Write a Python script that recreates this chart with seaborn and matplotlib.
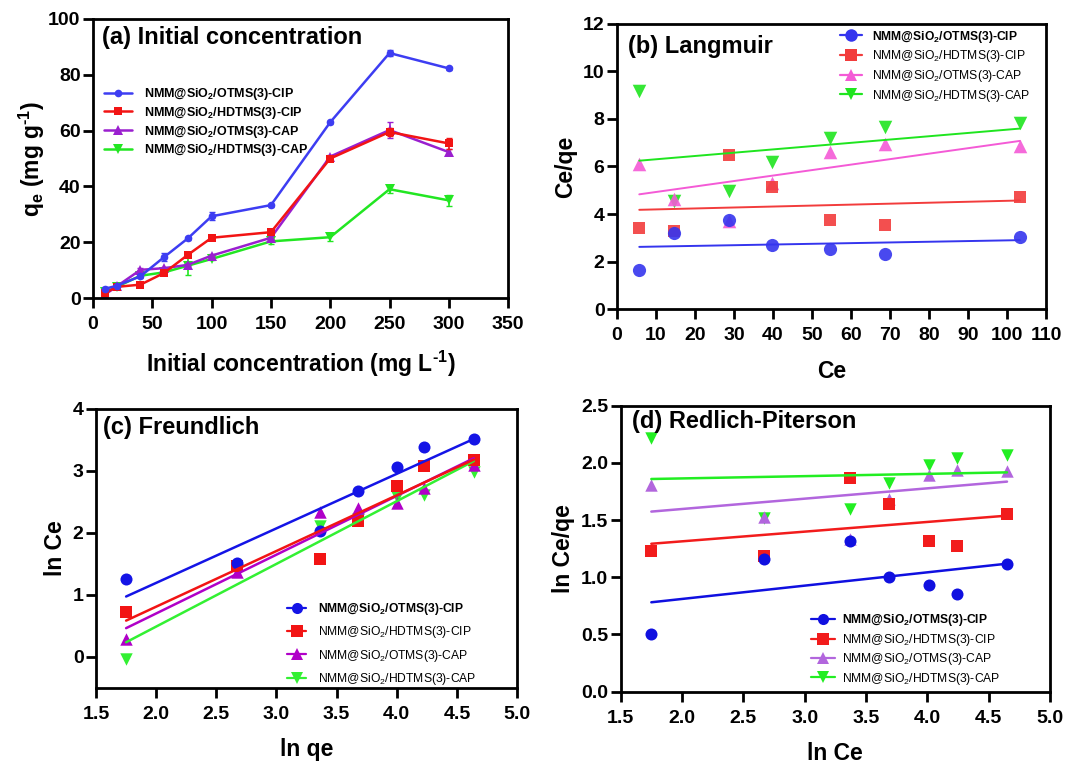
"""
Adsorption isotherms of the NMM@SiO2 adsorbents for CIP and CAP:
(a) effect of initial concentration, (b) Langmuir, (c) Freundlich and
(d) Redlich-Piterson linear fits. Saved to out.png.
"""
import matplotlib
matplotlib.use("Agg")
import matplotlib.pyplot as plt
from matplotlib.lines import Line2D
import seaborn as sns

# legend names (normal and bold version)
names = ["NMM@SiO$_2$/OTMS(3)-CIP", "NMM@SiO$_2$/HDTMS(3)-CIP",
         "NMM@SiO$_2$/OTMS(3)-CAP", "NMM@SiO$_2$/HDTMS(3)-CAP"]
names_bold = [r"NMM@SiO$_\mathbf{2}$/OTMS(3)-CIP",
              r"NMM@SiO$_\mathbf{2}$/HDTMS(3)-CIP",
              r"NMM@SiO$_\mathbf{2}$/OTMS(3)-CAP",
              r"NMM@SiO$_\mathbf{2}$/HDTMS(3)-CAP"]
markers = ["o", "s", "^", "v"]

# (a) initial concentration
conc = [10, 20, 40, 60, 80, 100, 150, 200, 250, 300]
qe_otms_cip = [3.3, 4.4, 7.8, 14.7, 21.4, 29.3, 33.3, 63.0, 87.8, 82.3]
qe_hdtms_cip = [1.8, 4.0, 4.8, 9.0, 15.5, 21.6, 23.6, 50.0, 59.5, 55.4]
qe_otms_cap = [1.2, 4.2, 10.1, 10.7, 11.9, 15.2, 21.6, 50.7, 60.2, 52.3]
qe_hdtms_cap = [2.0, 4.0, 8.0, 9.2, 11.6, 14.0, 20.3, 21.8, 39.0, 35.0]
err_otms_cip = [0.5, 0, 0.5, 1.5, 0.5, 1.5, 0.5, 0.5, 1.0, 0.5]
err_hdtms_cip = [0.5, 0, 0.5, 0.5, 0.5, 0.5, 0.5, 0.5, 1.5, 2.0]
err_otms_cap = [0.5, 0, 0.5, 0.5, 0.5, 0.5, 0.5, 0.5, 3.0, 1.2]
err_hdtms_cap = [0.5, 0, 0.5, 0.5, 3.5, 0.5, 1.0, 1.5, 1.5, 2.0]

# (b) Langmuir: Ce vs Ce/qe
ce = [5.7, 14.6, 28.8, 39.8, 54.7, 68.8, 103.3]
lang_otms_cip = [1.63, 3.2, 3.73, 2.7, 2.52, 2.32, 3.05]
lang_hdtms_cip = [3.41, 3.3, 6.49, 5.12, 3.76, 3.54, 4.73]
lang_otms_cap = [6.11, 4.63, 3.7, 5.3, 6.59, 6.94, 6.86]
lang_hdtms_cap = [9.16, 4.53, 4.95, 6.17, 7.19, 7.65, 7.84]

# (c) Freundlich: ln qe vs ln Ce
ln_qe = [1.75, 2.67, 3.36, 3.68, 4.0, 4.23, 4.64]
fr_otms_cip = [1.26, 1.51, 2.04, 2.67, 3.07, 3.39, 3.51]
fr_hdtms_cip = [0.73, 1.46, 1.58, 2.19, 2.75, 3.08, 3.17]
fr_otms_cap = [0.29, 1.37, 2.34, 2.40, 2.49, 2.73, 3.09]
fr_hdtms_cap = [-0.04, 1.40, 2.12, 2.22, 2.58, 2.62, 2.98]

# (d) Redlich-Piterson: ln Ce vs ln Ce/qe
ln_ce = [1.75, 2.67, 3.37, 3.69, 4.01, 4.24, 4.65]
rp_otms_cip = [0.50, 1.16, 1.32, 1.00, 0.93, 0.85, 1.12]
rp_hdtms_cip = [1.23, 1.19, 1.87, 1.64, 1.32, 1.27, 1.555]
rp_otms_cap = [1.81, 1.53, 1.33, 1.68, 1.89, 1.94, 1.93]
rp_hdtms_cap = [2.22, 1.52, 1.60, 1.82, 1.98, 2.04, 2.07]

sns.set_style("ticks")
plt.rcParams["font.family"] = ["Liberation Sans", "DejaVu Sans"]
plt.rcParams["font.weight"] = "bold"
plt.rcParams["axes.labelweight"] = "bold"
plt.rcParams["text.color"] = "black"
plt.rcParams["axes.labelcolor"] = "black"
plt.rcParams["mathtext.fontset"] = "custom"
plt.rcParams["mathtext.rm"] = "Liberation Sans"
plt.rcParams["mathtext.it"] = "Liberation Sans:italic"
plt.rcParams["mathtext.bf"] = "Liberation Sans:bold"
plt.rcParams["mathtext.default"] = "regular"

TITLE_SIZE = 17
LABEL_SIZE = 16.5


def style_axes(ax):
    """thick black box and outward ticks, GraphPad look"""
    for sp in ax.spines.values():
        sp.set_linewidth(2)
        sp.set_color("black")
    ax.tick_params(direction="out", length=7, width=2, labelsize=14,
                   colors="black")
    ax.tick_params(axis="x", pad=6)
    ax.tick_params(axis="y", pad=2)
    for lab in ax.get_xticklabels() + ax.get_yticklabels():
        lab.set_fontweight("bold")
    ax.xaxis.labelpad = 11
    ax.yaxis.labelpad = 4


def fit_panel(ax, x, series, colors, sizes, alpha=1.0, lw=1.6):
    """scatter + linear fit per series, drawn last series first"""
    for i in reversed(range(4)):
        sns.regplot(x=x, y=series[i], ax=ax, ci=None, marker=markers[i],
                    color=colors[i],
                    scatter_kws={"s": sizes[i], "alpha": alpha,
                                 "linewidths": 0},
                    line_kws={"lw": lw})


def fit_legend(ax, colors, msize, loc, anchor, spacing, hlen, pad):
    handles = [Line2D([0], [0], color=colors[i], marker=markers[i],
                      markersize=msize, markeredgewidth=0, lw=1.6)
               for i in range(4)]
    labels = [names_bold[0]] + names[1:]
    leg = ax.legend(handles, labels, loc=loc, bbox_to_anchor=anchor,
                    frameon=False, prop={"size": 8.7, "weight": "normal"},
                    labelspacing=spacing, handlelength=hlen,
                    handletextpad=pad)
    leg.get_texts()[0].set_fontweight("bold")
    return leg


def panel_a(ax):
    colors = ["#3D3DF2", "#F21414", "#9A1FCF", "#22E622"]
    vals = [qe_otms_cip, qe_hdtms_cip, qe_otms_cap, qe_hdtms_cap]
    errs = [err_otms_cip, err_hdtms_cip, err_otms_cap, err_hdtms_cap]
    msz = [5.5, 6, 6.5, 6.5]
    for i in reversed(range(4)):
        ax.errorbar(conc, vals[i], yerr=errs[i], fmt="none",
                    ecolor=colors[i], capsize=2.5, elinewidth=1.2)
        sns.lineplot(x=conc, y=vals[i], ax=ax, color=colors[i],
                     marker=markers[i], markersize=msz[i],
                     markeredgewidth=0, lw=1.8)
    handles = [Line2D([0], [0], color=colors[i], marker=markers[i],
                      markersize=msz[i], markeredgewidth=0, lw=1.8)
               for i in range(4)]
    ax.legend(handles, names_bold, loc="upper left",
              bbox_to_anchor=(0.0, 0.80), frameon=False,
              prop={"size": 9, "weight": "bold"}, labelspacing=0.22,
              handlelength=2.2, handletextpad=1.0)
    ax.set_xlim(0, 350)
    ax.set_ylim(0, 100)
    ax.set_xticks(range(0, 351, 50))
    ax.set_yticks(range(0, 101, 20))
    ax.set_xlabel("Initial concentration (mg L$^\\mathbf{\u20101}$)",
                  fontsize=LABEL_SIZE)
    ax.set_ylabel("q$_\\mathbf{e}$ (mg g$^\\mathbf{\u20101}$)",
                  fontsize=LABEL_SIZE)
    ax.text(0.022, 0.935, "(a) Initial concentration",
            transform=ax.transAxes, fontsize=TITLE_SIZE, fontweight="bold",
            va="center")
    style_axes(ax)
    ax.yaxis.labelpad = 1


def panel_b(ax):
    colors = ["#3535EE", "#F23C3C", "#F45AD6", "#1FE51F"]
    vals = [lang_otms_cip, lang_hdtms_cip, lang_otms_cap, lang_hdtms_cap]
    fit_panel(ax, ce, vals, colors, [90, 75, 95, 95], alpha=0.9, lw=1.4)
    fit_legend(ax, colors, 9, "upper right", (0.99, 1.02), 0.3, 1.8, 0.9)
    ax.set_xlim(0, 110)
    ax.set_ylim(0, 12)
    ax.set_xticks(range(0, 111, 10))
    ax.set_yticks(range(0, 13, 2))
    ax.set_xlabel("Ce", fontsize=LABEL_SIZE)
    ax.set_ylabel("Ce/qe", fontsize=LABEL_SIZE)
    ax.text(0.026, 0.919, "(b) Langmuir", transform=ax.transAxes,
            fontsize=TITLE_SIZE, fontweight="bold", va="center")
    style_axes(ax)


def panel_c(ax):
    colors = ["#1414E6", "#F21414", "#B000C8", "#33F033"]
    vals = [fr_otms_cip, fr_hdtms_cip, fr_otms_cap, fr_hdtms_cap]
    fit_panel(ax, ln_qe, vals, colors, [75, 70, 80, 80], lw=1.8)
    fit_legend(ax, colors, 8, "lower right", (0.93, -0.035), 0.6, 1.6,
               1.0)
    ax.set_xlim(1.5, 5.0)
    ax.set_ylim(-0.5, 4)
    ax.set_xticks([1.5, 2.0, 2.5, 3.0, 3.5, 4.0, 4.5, 5.0])
    ax.set_yticks([0, 1, 2, 3, 4])
    ax.set_xlabel("ln qe", fontsize=LABEL_SIZE)
    ax.set_ylabel("ln Ce", fontsize=LABEL_SIZE)
    ax.text(0.017, 0.932, "(c) Freundlich", transform=ax.transAxes,
            fontsize=TITLE_SIZE, fontweight="bold", va="center")
    style_axes(ax)


def panel_d(ax):
    colors = ["#1010E0", "#F21C1C", "#B266DD", "#22EE22"]
    vals = [rp_otms_cip, rp_hdtms_cip, rp_otms_cap, rp_hdtms_cap]
    fit_panel(ax, ln_ce, vals, colors, [75, 70, 80, 80], lw=1.8)
    fit_legend(ax, colors, 8, "lower right", (0.91, -0.02), 0.28, 2.0, 0.6)
    ax.set_xlim(1.5, 5.0)
    ax.set_ylim(0, 2.5)
    ax.set_xticks([1.5, 2.0, 2.5, 3.0, 3.5, 4.0, 4.5, 5.0])
    ax.set_yticks([0.0, 0.5, 1.0, 1.5, 2.0, 2.5])
    ax.set_yticklabels(["0.0", "0.5", "1.0", "1.5", "2.0", "2.5"])
    ax.set_xlabel("ln Ce", fontsize=LABEL_SIZE)
    ax.set_ylabel("ln Ce/qe", fontsize=LABEL_SIZE)
    ax.text(0.026, 0.943, "(d) Redlich-Piterson", transform=ax.transAxes,
            fontsize=TITLE_SIZE, fontweight="bold", va="center")
    style_axes(ax)


def main():
    fig = plt.figure(figsize=(10.67, 7.63), dpi=100)
    ax_a = fig.add_axes([0.0872, 0.6094, 0.389, 0.3657])
    ax_b = fig.add_axes([0.5783, 0.5946, 0.402, 0.3746])
    ax_c = fig.add_axes([0.0900, 0.0983, 0.3946, 0.3657])
    ax_d = fig.add_axes([0.5817, 0.0934, 0.4023, 0.3751])
    panel_a(ax_a)
    panel_b(ax_b)
    panel_c(ax_c)
    panel_d(ax_d)
    fig.savefig("out.png", dpi=100)


if __name__ == '__main__':
    main()
